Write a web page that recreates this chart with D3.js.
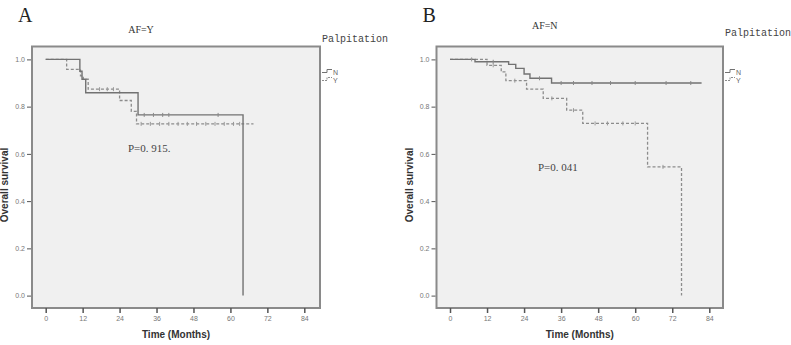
<!DOCTYPE html>
<html>
<head>
<meta charset="utf-8">
<script src="https://cdn.jsdelivr.net/npm/d3@7"></script>
<style>
  body { margin: 0; background: #fff; }
  svg { display: block; }
</style>
</head>
<body>
<svg id="drawing_region"></svg>
<script>
// tick labels
const xTicks = [0, 12, 24, 36, 48, 60, 72, 84];
const yTicks = [0.0, 0.2, 0.4, 0.6, 0.8, 1.0];

// panel A (AF=Y): [time, survival] step points
const aN = [[0,1],[11.1,0.95],[11.8,0.916],[13.0,0.859],[30.0,0.765],[64.1,0.765],[64.1,0]];
const aY = [[0,1],[6.8,0.958],[11.3,0.93],[12.2,0.916],[13.8,0.874],[24,0.826],[27.8,0.78],[29.5,0.727],[67.5,0.727]];
const aNCens = [[32,0.765],[35,0.765],[38,0.765],[40,0.765],[56,0.765]];
const aYCens = [[17.5,0.874],[20,0.874],[22,0.874],[31,0.727],[34,0.727],[37,0.727],[40,0.727],[43,0.727],[46,0.727],[49,0.727],[52,0.727],[55,0.727],[58,0.727],[61,0.727],[63,0.727]];

// panel B (AF=N)
const bN = [[0,1],[8.1,0.99],[19.0,0.979],[21.3,0.962],[24,0.938],[25.9,0.92],[32.9,0.9],[81.5,0.9]];
const bY = [[0,1],[12,0.975],[16.6,0.947],[18.1,0.91],[24.8,0.874],[30.2,0.835],[37.8,0.785],[43,0.729],[64,0.545],[75,0.545],[75,0]];
const bNCens = [[14,0.99],[29,0.92],[36,0.9],[40,0.9],[46,0.9],[52,0.9],[60,0.9],[70,0.9],[78,0.9]];
const bYCens = [[7,1],[14,0.975],[21,0.91],[33,0.835],[40,0.785],[47,0.729],[51,0.729],[56,0.729],[60,0.729],[69,0.545]];

const panels = [
  {letter: 'A', title: 'AF=Y', pval: 'P=0. 915.', n: aN, y: aY, nc: aNCens, yc: aYCens,
   frame: [32, 320], x0: 45.7, x84: 304.3, titleY: 33, pvalX: 128, pvalY: 152, palpY: 42},
  {letter: 'B', title: 'AF=N', pval: 'P=0. 041', n: bN, y: bY, nc: bNCens, yc: bYCens,
   frame: [436.5, 723], x0: 450, x84: 709.3, titleY: 29, pvalX: 538, pvalY: 171, palpY: 36}
];

const svg = d3.select('#drawing_region')
  .attr('width', 791)
  .attr('height', 345);

panels.forEach(p => drawPanel(p));

function drawPanel(p) {
  const top = 46.5, bottom = 308;
  const xscale = d3.scaleLinear().domain([0, 84]).range([p.x0, p.x84]);
  const yscale = d3.scaleLinear().domain([0, 1]).range([295.6, 59.4]);
  const g = svg.append('g');

  // plot background + frame
  g.append('rect')
    .attr('x', p.frame[0]).attr('y', top)
    .attr('width', p.frame[1] - p.frame[0]).attr('height', bottom - top)
    .attr('fill', '#f0f0f0')
    .attr('stroke', '#8a8a8a')
    .attr('stroke-width', 2);

  // axes
  const xaxis = d3.axisBottom(xscale).tickValues(xTicks).tickSize(5).tickPadding(3)
    .tickFormat(d3.format('d'));
  const yaxis = d3.axisLeft(yscale).tickValues(yTicks).tickSize(4).tickPadding(2)
    .tickFormat(d3.format('.1f'));

  g.append('g').attr('transform', `translate(0, ${bottom})`).call(xaxis)
    .call(s => s.select('.domain').remove())
    .call(s => s.selectAll('line').attr('stroke', '#555').attr('stroke-width', 1.5))
    .call(s => s.selectAll('text').attr('font-size', 7).attr('fill', '#777')
      .attr('font-family', 'Liberation Sans, Arial, sans-serif'));

  g.append('g').attr('transform', `translate(${p.frame[0] - 1}, 0)`).call(yaxis)
    .call(s => s.select('.domain').remove())
    .call(s => s.selectAll('line').attr('stroke', '#555').attr('stroke-width', 1))
    .call(s => s.selectAll('text').attr('font-size', 7).attr('fill', '#777')
      .attr('font-family', 'Liberation Sans, Arial, sans-serif'));

  // axis titles
  g.append('text')
    .attr('x', (p.frame[0] + p.frame[1]) / 2).attr('y', 338)
    .attr('text-anchor', 'middle')
    .attr('font-family', 'Liberation Sans, Arial, sans-serif')
    .attr('font-weight', 'bold').attr('font-size', 10).attr('fill', '#333')
    .text('Time (Months)');

  g.append('text')
    .attr('transform', `translate(${p.frame[0] - 24}, 185) rotate(-90)`)
    .attr('text-anchor', 'middle')
    .attr('font-family', 'Liberation Sans, Arial, sans-serif')
    .attr('font-weight', 'bold').attr('font-size', 10).attr('fill', '#333')
    .text('Overall survival');

  // curves
  const line = d3.line()
    .x(d => xscale(d[0]))
    .y(d => yscale(d[1]))
    .curve(d3.curveStepAfter);

  g.append('path').datum(p.y).attr('d', line)
    .attr('fill', 'none').attr('stroke', '#8c8c8c')
    .attr('stroke-width', 1.3).attr('stroke-dasharray', '3,2');

  g.append('path').datum(p.n).attr('d', line)
    .attr('fill', 'none').attr('stroke', '#727272')
    .attr('stroke-width', 1.4);

  // censor marks
  g.selectAll('.censN').data(p.nc).enter().append('line')
    .attr('x1', d => xscale(d[0])).attr('x2', d => xscale(d[0]))
    .attr('y1', d => yscale(d[1]) - 2).attr('y2', d => yscale(d[1]) + 2)
    .attr('stroke', '#888').attr('stroke-width', 1);

  g.selectAll('.censY').data(p.yc).enter().append('line')
    .attr('x1', d => xscale(d[0])).attr('x2', d => xscale(d[0]))
    .attr('y1', d => yscale(d[1]) - 2).attr('y2', d => yscale(d[1]) + 2)
    .attr('stroke', '#999').attr('stroke-width', 1);

  // panel letter, title, p value
  g.append('text')
    .attr('x', p.frame[0] - 14).attr('y', 22)
    .attr('font-family', 'Liberation Serif, serif').attr('font-size', 20).attr('fill', '#222')
    .text(p.letter);

  g.append('text')
    .attr('x', (p.frame[0] + p.frame[1]) / 2 - 35).attr('y', p.titleY)
    .attr('text-anchor', 'middle')
    .attr('font-family', 'Liberation Serif, serif').attr('font-size', 10).attr('fill', '#333')
    .text(p.title);

  g.append('text')
    .attr('x', p.pvalX).attr('y', p.pvalY)
    .attr('font-family', 'Liberation Serif, serif').attr('font-size', 11).attr('fill', '#444')
    .text(p.pval);

  // legend
  const lx = p.frame[1] + 2;
  g.append('text')
    .attr('x', lx).attr('y', p.palpY)
    .attr('font-family', 'Liberation Mono, monospace').attr('font-size', 10).attr('fill', '#444')
    .text('Palpitation');

  [['N', 72.5, 'none', '#727272'], ['Y', 80.5, '2,1', '#8c8c8c']].forEach(([lab, yy, dash, col]) => {
    g.append('path')
      .attr('d', `M${lx},${yy} h5 v-3 h5`)
      .attr('fill', 'none').attr('stroke', col).attr('stroke-width', 1)
      .attr('stroke-dasharray', dash);
    g.append('text')
      .attr('x', lx + 11).attr('y', yy + 2)
      .attr('font-family', 'Liberation Sans, Arial, sans-serif').attr('font-size', 7).attr('fill', '#666')
      .text(lab);
  });
}
</script>
</body>
</html>
